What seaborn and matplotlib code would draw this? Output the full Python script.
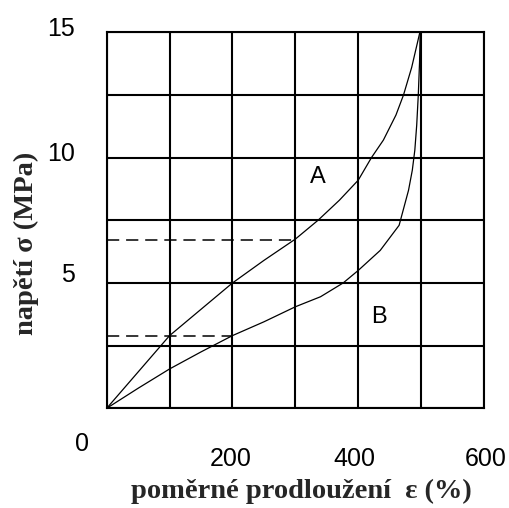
import matplotlib
matplotlib.use("Agg")
import matplotlib.pyplot as plt
import matplotlib.transforms as mtransforms
import pandas as pd
import seaborn as sns

# stress-strain curves (strain in %, stress in MPa)
strain_A = [0, 50, 100, 150, 200, 250, 300, 336, 370, 400, 421, 440, 460, 472, 485, 498]
stress_A = [0, 1.45, 2.9, 3.95, 5.0, 5.9, 6.75, 7.5, 8.3, 9.1, 10.0, 10.7, 11.7, 12.5, 13.6, 15.0]

strain_B = [0, 50, 100, 150, 200, 250, 300, 340, 376, 400, 435, 465, 480, 486, 490, 493, 495.5, 497.5, 498.5]
stress_B = [0, 0.8, 1.57, 2.25, 2.9, 3.45, 4.05, 4.45, 5.0, 5.5, 6.3, 7.3, 8.7, 9.5, 10.3, 11.3, 12.5, 13.8, 15.0]

# reference levels (dashed)
level_strain_A = [0, 300]
level_stress_A = [6.7, 6.7]
level_strain_B = [0, 200]
level_stress_B = [2.9, 2.9]

x_ticks = [0, 100, 200, 300, 400, 500, 600]
x_tick_labels = ["0", "", "200", "", "400", "", "600"]
y_ticks = [0, 2.5, 5, 7.5, 10, 12.5, 15]
y_tick_labels = ["", "", "5", "", "10", "", "15"]

curve_names = ["A", "B"]
curve_label_pos = [(335, 9.23), (433, 3.64)]

sns.set_theme(style="white")
plt.rcParams["font.family"] = ["DejaVu Sans"]

fig = plt.figure(figsize=(5.10, 5.08), dpi=100)
ax = fig.add_axes([106.7 / 510, 1 - 408.3 / 508, 377.3 / 510, 376.0 / 508])

df_A = pd.DataFrame({"strain": strain_A, "stress": stress_A})
df_B = pd.DataFrame({"strain": strain_B, "stress": stress_B})
df_LA = pd.DataFrame({"strain": level_strain_A, "stress": level_stress_A})
df_LB = pd.DataFrame({"strain": level_strain_B, "stress": level_stress_B})

for d in (df_A, df_B):
    sns.lineplot(data=d, x="strain", y="stress", ax=ax, color="black",
                 lw=0.9, sort=False, estimator=None, zorder=4)
for d in (df_LA, df_LB):
    sns.lineplot(data=d, x="strain", y="stress", ax=ax, color="black",
                 lw=1.1, sort=False, estimator=None, zorder=4,
                 linestyle=(0, (8, 4.5)))

ax.set_xlim(0, 600)
ax.set_ylim(0, 15)

ax.set_xticks(x_ticks)
ax.set_yticks(y_ticks)
tick_font = dict(family=["Liberation Sans", "DejaVu Sans"], size=18)
ax.set_xticklabels(x_tick_labels, **tick_font)
ax.set_yticklabels(y_tick_labels, **tick_font)
ax.tick_params(axis="both", length=0, colors="black")
ax.tick_params(axis="x", pad=27.9)
ax.tick_params(axis="y", pad=22.8)

ax.grid(True, color="black", lw=1.5)
ax.set_axisbelow(True)
for s in ax.spines.values():
    s.set_color("black")
    s.set_linewidth(1.5)
    s.set_visible(True)

# individual nudges of tick labels (pixels)
x_shift = {"0": (-25, 15), "200": (-2, 0), "400": (-4, 0), "600": (2, 0)}
for lab in ax.get_xticklabels():
    dx, dy = x_shift.get(lab.get_text(), (0, 0))
    lab.set_transform(lab.get_transform() +
                      mtransforms.ScaledTranslation(dx / 100, dy / 100, fig.dpi_scale_trans))
y_shift = {"5": 10.7, "10": 6.3, "15": 5.3}
for lab in ax.get_yticklabels():
    dy = y_shift.get(lab.get_text(), 0)
    lab.set_transform(lab.get_transform() +
                      mtransforms.ScaledTranslation(0, dy / 100, fig.dpi_scale_trans))

for name, (px, py) in zip(curve_names, curve_label_pos):
    ax.text(px, py, name, ha="center", va="center", fontsize=17,
            family=["Liberation Sans", "DejaVu Sans"], color="black", zorder=5)

label_font = dict(family=["Liberation Serif", "DejaVu Serif"], fontweight="bold", size=20.5)
ax.set_xlabel("poměrné prodloužení  ε (%)", va="center", **label_font)
ax.set_ylabel("napětí σ (MPa)", va="center", rotation=90, **label_font)
ax.xaxis.set_label_coords(0.515, -0.222)
ax.yaxis.set_label_coords(-0.214, 0.4396)

fig.savefig("out.png", dpi=100, facecolor="white")
